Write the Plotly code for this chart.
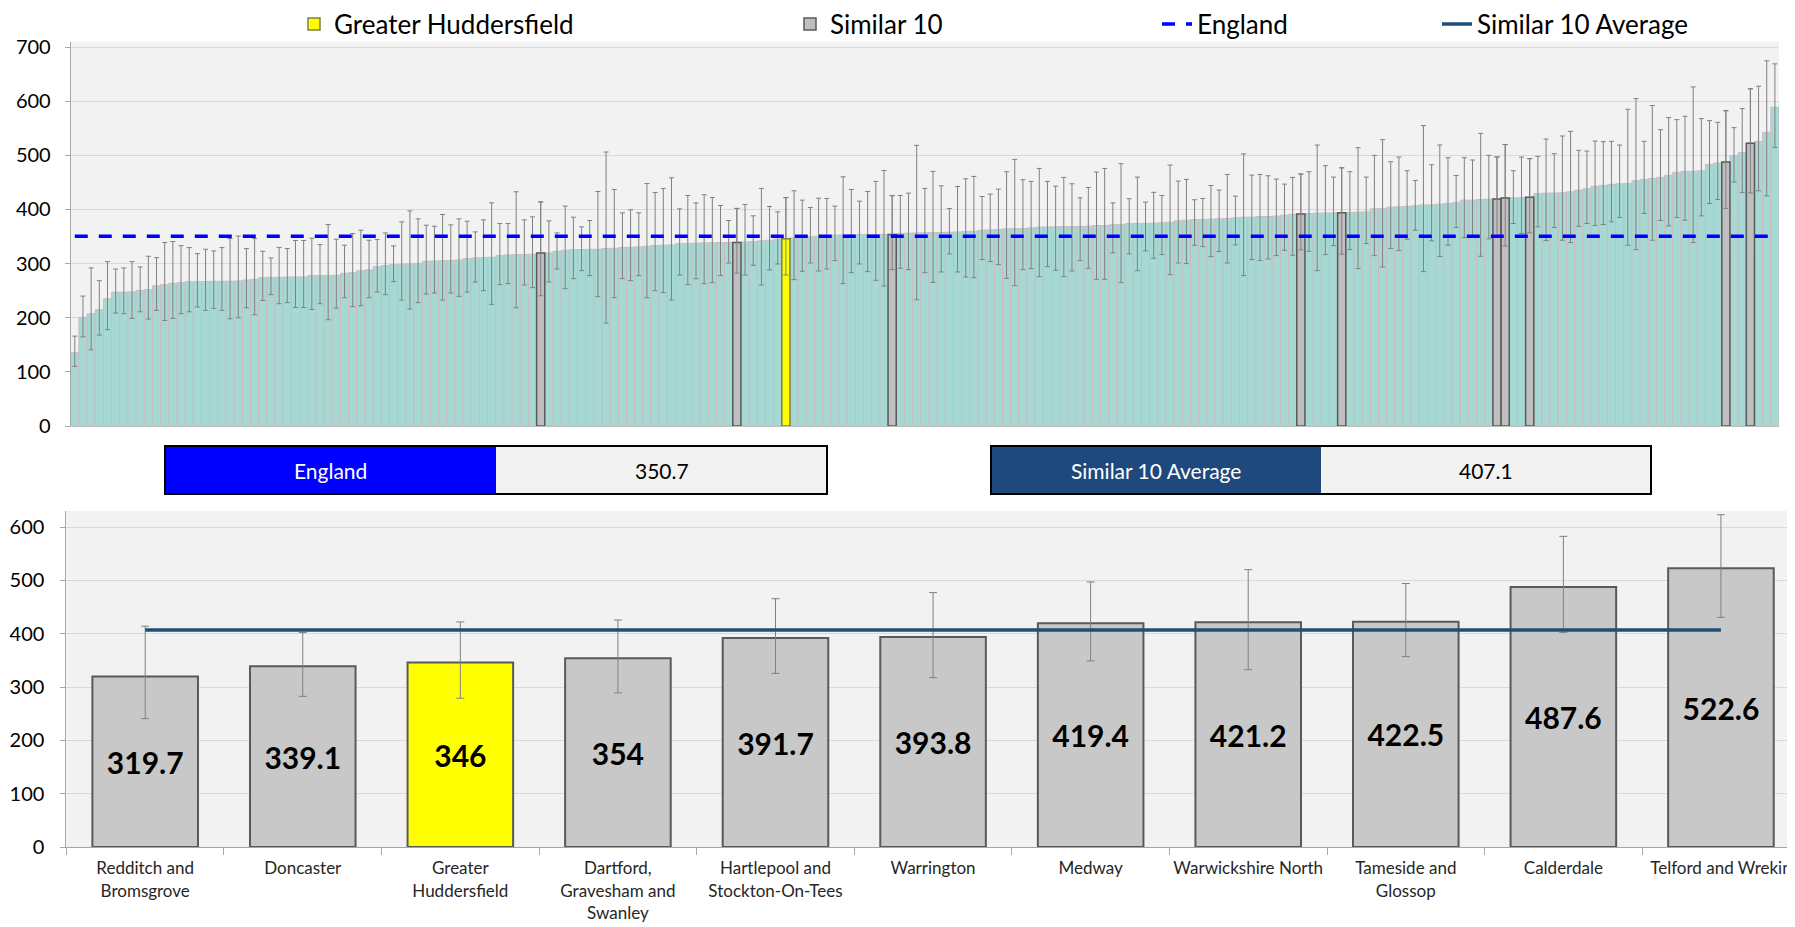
import plotly.graph_objects as go

W, H = 1795, 927
PAD = 8  # page body margin around the plot div

# all CCGs, sorted by rate (top chart)
all_vals = [
    135.2, 200.6, 207.4, 214.8, 235.0, 247.5, 247.5, 247.8, 250.6, 252.0,
    259.3, 261.0, 263.6, 264.8, 266.7, 266.7, 266.8, 267.3, 267.4, 267.5,
    268.0, 269.7, 271.0, 274.0, 274.6, 274.7, 275.2, 275.3, 275.4, 277.7,
    277.8, 277.9, 278.4, 282.1, 283.3, 287.0, 288.3, 294.4, 296.3, 298.1,
    298.8, 299.4, 300.0, 304.3, 304.9, 305.5, 305.6, 306.8, 309.3, 310.5,
    311.1, 311.7, 314.8, 316.0, 316.6, 316.7, 317.3, 319.7, 319.8, 322.8,
    324.7, 325.9, 326.0, 326.4, 326.5, 327.8, 328.4, 329.6, 330.2, 330.9,
    332.1, 333.3, 334.0, 334.6, 336.9, 337.0, 337.7, 338.3, 338.7, 338.9,
    339.0, 339.1, 340.1, 340.7, 342.0, 343.2, 345.1, 346.0, 347.5, 348.1,
    349.4, 350.6, 351.2, 352.5, 353.1, 353.5, 353.6, 353.7, 353.8, 353.9,
    354.0, 355.6, 356.2, 356.8, 356.9, 357.4, 357.5, 358.0, 358.6, 359.3,
    359.9, 361.7, 362.3, 363.0, 364.2, 364.7, 364.8, 366.0, 367.3, 367.8,
    367.9, 368.4, 368.5, 368.6, 369.1, 370.3, 370.4, 371.6, 372.2, 374.0,
    374.1, 374.6, 374.7, 375.3, 376.5, 379.0, 380.2, 381.4, 381.5, 382.1,
    382.7, 383.3, 384.6, 385.7, 385.8, 386.9, 387.0, 387.7, 389.5, 391.0,
    391.7, 392.6, 393.2, 393.5, 393.7, 393.8, 394.4, 395.1, 395.7, 401.2,
    401.8, 404.3, 405.0, 405.6, 406.8, 408.5, 408.6, 409.9, 411.1, 413.0,
    417.2, 417.3, 418.5, 419.1, 419.4, 421.2, 421.6, 422.2, 422.5, 429.3,
    430.2, 430.3, 430.9, 432.7, 435.8, 438.3, 442.6, 444.4, 446.3, 447.5,
    448.1, 453.1, 455.6, 457.4, 459.3, 463.0, 468.5, 470.4, 470.5, 471.6,
    483.3, 485.8, 487.6, 499.4, 505.0, 522.6, 526.0, 542.6, 588.9,
]
all_upper = [
    166.0, 240.0, 292.0, 268.5, 303.7, 290.0, 292.0, 303.7, 293.8, 313.6,
    311.0, 339.0, 340.7, 333.3, 329.6, 318.5, 326.5, 323.5, 329.6, 346.3,
    351.0, 327.8, 346.3, 322.8, 310.5, 330.0, 327.8, 342.6, 342.6, 347.0,
    335.2, 372.2, 345.1, 334.0, 355.6, 361.7, 343.2, 344.4, 356.8, 332.7,
    377.2, 397.5, 382.7, 371.0, 369.1, 390.7, 371.6, 382.7, 378.4, 358.6,
    380.9, 412.3, 374.0, 374.0, 432.7, 380.9, 386.4, 414.0, 379.0, 356.8,
    406.2, 385.8, 367.9, 379.6, 433.3, 506.2, 437.0, 393.8, 399.4, 393.8,
    448.1, 431.5, 438.9, 458.6, 401.2, 425.9, 412.3, 427.2, 422.2, 407.4,
    379.6, 402.0, 409.3, 388.3, 438.9, 405.6, 395.7, 422.0, 434.6, 417.3,
    403.7, 420.9, 420.4, 406.2, 460.5, 437.0, 415.4, 433.3, 451.9, 472.2,
    425.6, 425.9, 430.2, 518.5, 438.9, 470.4, 443.8, 401.8, 442.6, 456.8,
    461.1, 424.0, 428.4, 437.7, 469.8, 492.6, 455.0, 451.9, 475.9, 451.9,
    443.2, 459.3, 447.5, 421.6, 440.7, 469.1, 475.9, 412.3, 484.6, 419.8,
    459.9, 413.6, 431.8, 425.9, 482.1, 452.5, 455.6, 418.0, 420.4, 444.4,
    435.8, 464.8, 424.7, 502.7, 463.6, 464.8, 462.3, 456.2, 446.9, 459.3,
    465.5, 469.8, 519.1, 480.9, 459.9, 477.0, 469.8, 514.2, 459.9, 500.0,
    529.0, 488.3, 496.9, 471.6, 453.7, 554.9, 482.7, 519.1, 495.7, 462.9,
    495.7, 491.4, 540.7, 500.0, 497.0, 520.0, 471.6, 496.9, 494.0, 498.1,
    530.2, 503.1, 535.8, 544.4, 509.3, 508.0, 526.5, 525.3, 525.9, 519.1,
    585.2, 604.9, 525.9, 592.0, 547.5, 569.8, 566.0, 572.2, 626.5, 567.9,
    564.2, 561.1, 582.5, 551.2, 586.4, 623.0, 627.8, 674.7, 669.1,
]
all_lower = [
    110.0, 164.8, 140.7, 167.9, 177.8, 208.6, 207.4, 198.8, 211.0, 197.5,
    213.6, 195.0, 198.8, 207.4, 211.0, 219.8, 213.6, 217.3, 213.6, 198.1,
    200.0, 218.5, 205.5, 232.0, 242.6, 225.9, 227.8, 219.0, 219.0, 215.4,
    225.9, 196.3, 217.9, 237.0, 220.4, 222.2, 237.0, 247.5, 242.6, 266.7,
    232.7, 216.0, 227.8, 243.8, 245.7, 232.7, 245.7, 239.5, 247.5, 266.0,
    250.0, 224.7, 261.1, 263.0, 218.5, 260.5, 255.6, 240.7, 266.0, 290.1,
    253.7, 272.2, 287.0, 277.8, 238.9, 190.1, 237.0, 272.2, 268.5, 277.8,
    237.0, 250.0, 246.3, 232.7, 279.0, 261.1, 272.2, 263.0, 264.8, 277.8,
    301.2, 282.5, 279.0, 296.9, 260.5, 288.3, 299.4, 279.0, 270.4, 285.8,
    301.2, 286.4, 290.1, 305.6, 263.0, 283.3, 299.4, 285.2, 269.1, 258.6,
    289.0, 291.4, 288.9, 233.3, 283.3, 265.4, 284.6, 317.9, 284.6, 275.3,
    274.1, 307.4, 303.7, 298.1, 272.8, 259.3, 288.9, 290.7, 275.9, 294.4,
    287.7, 275.9, 286.4, 305.6, 291.4, 271.0, 271.0, 319.8, 264.8, 317.9,
    287.0, 323.5, 309.9, 316.7, 279.6, 301.2, 300.0, 334.0, 331.5, 313.0,
    322.2, 301.2, 334.6, 277.8, 307.4, 305.6, 308.6, 314.8, 324.7, 315.4,
    325.5, 322.8, 287.0, 316.7, 333.3, 317.5, 325.9, 290.7, 337.0, 314.8,
    293.8, 327.8, 324.1, 345.1, 361.7, 285.2, 342.0, 313.0, 334.0, 366.7,
    348.1, 349.4, 313.6, 345.7, 349.0, 332.5, 374.1, 355.6, 357.0, 367.9,
    342.6, 366.7, 343.2, 338.9, 369.1, 374.1, 370.4, 372.2, 377.2, 385.2,
    334.0, 325.9, 392.6, 343.2, 379.6, 369.8, 385.2, 380.2, 338.9, 388.3,
    411.1, 418.5, 402.0, 450.6, 431.5, 430.6, 434.6, 425.3, 514.8,
]

# the Similar 10 group plus Greater Huddersfield (bottom chart)
sim_names = ['Redditch and<br>Bromsgrove', 'Doncaster', 'Greater<br>Huddersfield',
             'Dartford,<br>Gravesham and<br>Swanley', 'Hartlepool and<br>Stockton-On-Tees',
             'Warrington', 'Medway', 'Warwickshire North', 'Tameside and<br>Glossop',
             'Calderdale', 'Telford and Wrekin']
sim_vals = [319.7, 339.1, 346.0, 354.0, 391.7, 393.8, 419.4, 421.2, 422.5, 487.6, 522.6]
sim_upper = [414.0, 402.0, 422.0, 425.6, 465.5, 477.0, 497.0, 520.0, 494.0, 582.5, 623.0]
sim_lower = [240.7, 282.5, 279.0, 289.0, 325.5, 317.5, 349.0, 332.5, 357.0, 402.0, 430.6]
home = 'Greater<br>Huddersfield'

england = 350.7
sim_avg = 407.1

TEAL = '#A6D9D4'
GREY = '#BFBFBF'
YELLOW = '#FFFF00'
FONT = 'Lato'

ranks = list(range(len(all_vals)))
home_i = sim_names.index(home)
others = [i for i in range(len(sim_names)) if i != home_i]


def err(vals, up, lo, width=2.5):
    return dict(type='data', symmetric=False,
                array=[u - v for u, v in zip(up, vals)],
                arrayminus=[v - l for v, l in zip(vals, lo)],
                color='#808080', thickness=1, width=width)


fig = go.Figure()

# all CCGs
fig.add_trace(go.Bar(
    x=ranks, y=all_vals, width=1, showlegend=False,
    marker=dict(color=TEAL, line=dict(color='#C9BCC0', width=1)),
    error_y=err(all_vals, all_upper, all_lower),
    xaxis='x', yaxis='y'))

# similar 10 highlighted on top
o_vals = [sim_vals[i] for i in others]
o_rank = [all_vals.index(v) for v in o_vals]
fig.add_trace(go.Bar(
    x=o_rank, y=o_vals, width=1, name='Similar 10', legend='legend2',
    marker=dict(color=GREY, line=dict(color='#595959', width=1.5)),
    error_y=err(o_vals, [sim_upper[i] for i in others], [sim_lower[i] for i in others]),
    xaxis='x', yaxis='y'))

fig.add_trace(go.Bar(
    x=[all_vals.index(sim_vals[home_i])], y=[sim_vals[home_i]], width=1,
    name='Greater Huddersfield', legend='legend',
    marker=dict(color=YELLOW, line=dict(color='#7F7F3F', width=1.5)),
    error_y=err([sim_vals[home_i]], [sim_upper[home_i]], [sim_lower[home_i]]),
    xaxis='x', yaxis='y'))

fig.add_trace(go.Scatter(
    x=[ranks[0], ranks[-1]], y=[england, england], mode='lines', name='England',
    legend='legend3', line=dict(color='#0000FF', width=3.5, dash='13px,11px'),
    xaxis='x', yaxis='y'))

# bottom chart
fig.add_trace(go.Bar(
    x=sim_names, y=sim_vals, width=0.67, showlegend=False,
    marker=dict(color=[YELLOW if n == home else '#C8C8C8' for n in sim_names],
                line=dict(color='#595959', width=2)),
    text=[f'{v:g}' for v in sim_vals], texttemplate='<b>%{text}</b>',
    textposition='inside', insidetextanchor='middle', textangle=0,
    textfont=dict(size=30, color='black', family=FONT),
    error_y=err(sim_vals, sim_upper, sim_lower, width=4),
    xaxis='x2', yaxis='y2'))

fig.add_trace(go.Scatter(
    x=sim_names, y=[sim_avg] * len(sim_names), mode='lines',
    name='Similar 10 Average', legend='legend4',
    line=dict(color='#1F4E79', width=3.5),
    xaxis='x2', yaxis='y2'))

FW, FH = W - PAD, H - PAD


def px(x):
    return (x - PAD) / FW


def py(y):
    return 1 - (y - PAD) / FH


# value boxes
for (x0, xm, x1, fill, label, value) in [
        (165, 496, 827, '#0000FF', 'England', england),
        (991, 1321, 1651, '#1F497D', 'Similar 10 Average', sim_avg)]:
    fig.add_shape(type='rect', xref='paper', yref='paper', x0=px(x0), x1=px(xm),
                  y0=py(494), y1=py(446), fillcolor=fill, line=dict(width=0))
    fig.add_shape(type='rect', xref='paper', yref='paper', x0=px(xm), x1=px(x1),
                  y0=py(494), y1=py(446), fillcolor='#F2F2F2', line=dict(width=0))
    fig.add_shape(type='rect', xref='paper', yref='paper', x0=px(x0), x1=px(x1),
                  y0=py(494), y1=py(446), line=dict(color='black', width=2))
    fig.add_annotation(x=px((x0 + xm) / 2), y=py(470), xref='paper', yref='paper',
                       xanchor='center', yanchor='middle',
                       text=label, showarrow=False,
                       font=dict(size=21, color='white', family=FONT))
    fig.add_annotation(x=px((xm + x1) / 2), y=py(470), xref='paper', yref='paper',
                       xanchor='center', yanchor='middle',
                       text=f'{value}', showarrow=False,
                       font=dict(size=21, color='black', family=FONT))

leg = dict(orientation='h', yanchor='middle', y=py(24), xanchor='left',
           bgcolor='rgba(0,0,0,0)', font=dict(size=26, color='black', family=FONT))

fig.update_layout(
    width=FW, height=FH, autosize=False,
    margin=dict(l=0, r=0, t=0, b=0, autoexpand=False),
    paper_bgcolor='white', plot_bgcolor='#F2F2F2',
    barmode='overlay',
    font=dict(family=FONT, color='black'),
    legend={**leg, 'x': px(294)},
    legend2={**leg, 'x': px(790)},
    legend3={**leg, 'x': px(1157)},
    legend4={**leg, 'x': px(1437)},
    xaxis=dict(domain=[px(70.7), px(1779)], range=[-0.5, len(all_vals) - 0.5],
               showticklabels=False, ticks='', showgrid=False, zeroline=False,
               showline=True, linecolor='#BFBFBF', linewidth=1, anchor='y'),
    yaxis=dict(domain=[py(426), py(41.7)], range=[0, 710], dtick=100,
               gridcolor='#D9D9D9', zeroline=False, showline=True,
               linecolor='#A6A6A6', ticks='outside', ticklen=5, tickcolor='#A6A6A6',
               ticklabelstandoff=10,
               tickfont=dict(size=20, color='black'), automargin=False, anchor='x'),
    xaxis2=dict(domain=[px(66.4), 1.0], range=[-0.5, 10.47], type='category',
                ticks='outside', tickson='boundaries', ticklen=7, tickcolor='#A6A6A6',
                showline=True, linecolor='#A6A6A6', showgrid=False,
                ticklabelstandoff=6, tickangle=0,
                tickfont=dict(size=17, color='#262626'), automargin=False, anchor='y2'),
    yaxis2=dict(domain=[py(847), py(511)], range=[0, 630], dtick=100,
                gridcolor='#D9D9D9', zeroline=False, showline=True,
                linecolor='#A6A6A6', ticks='outside', ticklen=5, tickcolor='#A6A6A6',
                ticklabelstandoff=12,
                tickfont=dict(size=20, color='black'), automargin=False, anchor='x2'),
)

fig.write_html('out.html')
